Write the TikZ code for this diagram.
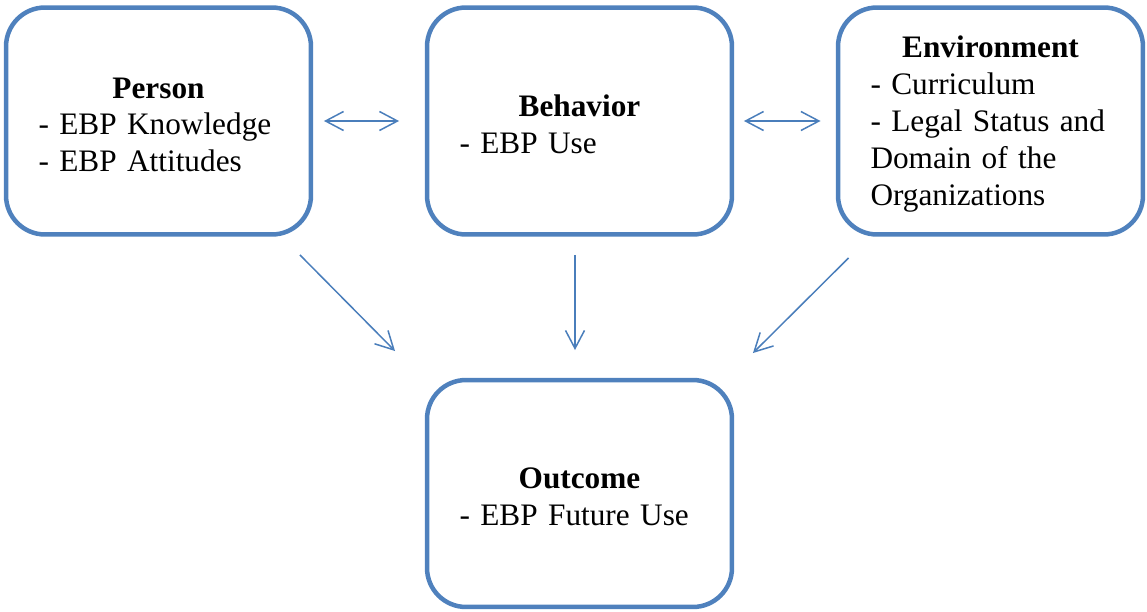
\documentclass[tikz,border=0pt]{standalone}
\usepackage{fontspec}
\setmainfont{Liberation Serif}
\usepackage{tikz}
\usetikzlibrary{arrows.meta, positioning}
\usepackage{xcolor}
\definecolor{boxblue}{HTML}{4F81BD}
\definecolor{arrowblue}{HTML}{4A7EBB}
\newcommand{\boxtitle}[1]{\makebox[\linewidth]{\rule{0pt}{0.9em}\textbf{#1}}}

\begin{document}
\begin{tikzpicture}[x=0.02cm, y=-0.02cm,
        >={Straight Barb[length=0.36cm, width=0.38cm]},
        blockbox/.style={draw=boxblue, line width=0.09cm, rounded corners=0.78cm,
            minimum width=6.1cm, minimum height=4.54cm, text width=4.8cm,
            inner xsep=0.65cm, inner ysep=0pt, outer sep=0pt, align=left,
            font=\fontsize{17.8}{21}\selectfont},
        linkarrow/.style={draw=arrowblue, line width=0.03cm}]
        \useasboundingbox (0,0) rectangle (1147,612);

        \node[blockbox] (person) at (158.5,121)
            {\boxtitle{Person}\\- EBP Knowledge\\- EBP Attitudes};
        \node[blockbox] (behavior) at (579.5,121)
            {\boxtitle{Behavior}\\- EBP Use};
        \node[blockbox] (environment) at (990.5,121)
            {\boxtitle{Environment}\\- Curriculum\\- Legal Status and\\Domain of the\\Organizations};
        \node[blockbox] (outcome) at (579.5,493.5)
            {\boxtitle{Outcome}\\- EBP Future Use};

        \draw[linkarrow, <->, shorten <=0.26cm, shorten >=0.56cm] (person) -- (behavior);
        \draw[linkarrow, <->, shorten <=0.24cm, shorten >=0.35cm] (behavior) -- (environment);

        \draw[linkarrow, ->] ([shift={(-11,20.5)}]person.south east) -- ([shift={(-32,-29)}]outcome.north west);
        \draw[linkarrow, ->] ([shift={(-4.5,20.5)}]behavior.south) -- ([shift={(-4.5,-30)}]outcome.north);
        \draw[linkarrow, ->] ([shift={(10.5,23.5)}]environment.south west) -- ([shift={(21,-27)}]outcome.north east);
    \end{tikzpicture}
\end{document}
